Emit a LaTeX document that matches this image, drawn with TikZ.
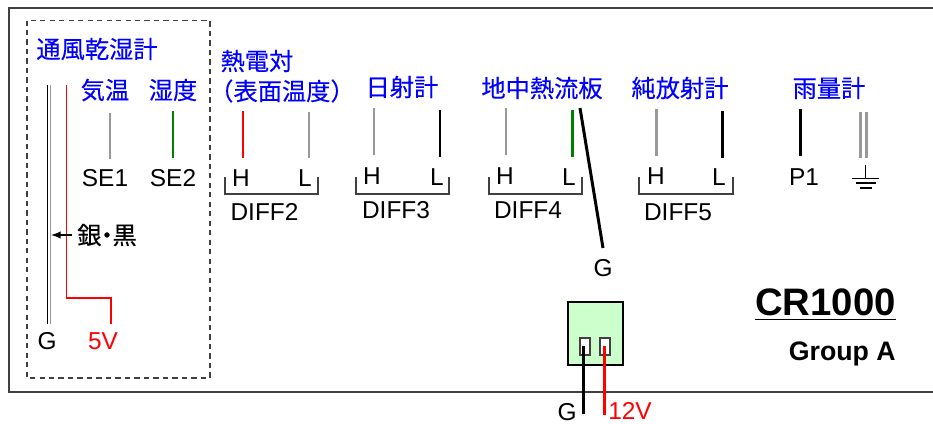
\documentclass[tikz,border=0pt]{standalone}
\usepackage{fontspec}
\setmainfont{Liberation Sans}
\newfontfamily\cjk[FakeBold=0.3]{Noto Sans CJK JP}
\usepackage{tikz}
\definecolor{wiregray}{HTML}{999999}
\definecolor{framegray}{HTML}{404040}
\definecolor{wiregreen}{HTML}{008000}
\definecolor{boxgreen}{HTML}{CCFFCC}
\definecolor{titleblue}{HTML}{0000FF}
\tikzset{
	every node/.style={inner sep=0pt},
	term/.style={font=\fontsize{13.9}{16}\selectfont},
	title/.style={font=\fontsize{13.8}{16}\selectfont\cjk, text=titleblue},
	frameline/.style={framegray, line width=.7pt},
	wire/.style={line width=1.7pt},
	thinwire/.style={line width=.7pt},
	bracket/.style={framegray, line width=.6pt},
}
\begin{document}
\begin{tikzpicture}[x=.02cm, y=-.02cm]
	\useasboundingbox (0,0) rectangle (933,423);
	\draw[frameline] (933,8)--(9,8)--(9,392)--(933,392);
	\draw[frameline, dashed, dash pattern=on 3pt off 2.4pt] (27,20.5) rectangle (210,378);
	%%%%%%%%%%%%%%%%%%%%%%%%%%%%%%%%
	\node[title] (psy) at (97,49){通風乾湿計};
	\node[title] (temp) at (105,90){気温};
	\node[title] (hum) at (173,90){湿度};
	\draw[wire, wiregray] (110,113)--(110,159);
	\draw[wire, wiregreen] (173,111)--(173,158);
	\node[term] (se1) at (105,178){SE1};
	\node[term] (se2) at (173,178){SE2};
	\draw[thinwire, black] (47.5,85)--(47.5,324);
	\draw[thinwire, wiregray] (50.5,85)--(50.5,324);
	\draw[thinwire, red] (66.8,85)--(66.8,298)--(111,298)--(111,324);
	\node[term] (gnda) at (47,341){G};
	\node[term, text=red] (fivev) at (103,341){5V};
	\node[term, font=\fontsize{13.8}{16}\selectfont\cjk] (silver) at (107,235){銀\hspace{-.27em}・\hspace{-.27em}黒};
	\draw[-latex, line width=.9pt] (silver.west)+(-5,0)--(51,235);
	%%%%%%%%%%%%%%%%%%%%%%%%%%%%%%%%
	\node[title] (tc) at (257,61){熱電対};
	\node[title] (tcs) at (282,91){（表面温度）};
	\draw[wire, red] (243,111)--(243,158);
	\draw[wire, wiregray] (309,112)--(309,158);
	\node[term] (h2) at (241,178){H};
	\node[term] (l2) at (305,178){L};
	\draw[bracket] (225,177)--(225,194)--(318,194)--(318,177);
	\node[term] (diff2) at (264.5,212){DIFF2};
	%%%%%%%%%%%%%%%%%%%%%%%%%%%%%%%%
	\node[title] (solar) at (402,87){日射計};
	\draw[wire, wiregray] (374,108)--(374,155);
	\draw[wire, black] (440,110)--(440,157);
	\node[term] (h3) at (372,176){H};
	\node[term] (l3) at (437,177){L};
	\draw[bracket] (356,177)--(356,194)--(449,194)--(449,177);
	\node[term] (diff3) at (396,210){DIFF3};
	%%%%%%%%%%%%%%%%%%%%%%%%%%%%%%%%
	\node[title] (flux) at (542,88){地中熱流板};
	\draw[wire, wiregray] (506,108)--(506,155);
	\draw[wire, wiregreen] (572,110)--(572,157);
	\node[term] (h4) at (505,176){H};
	\node[term] (l4) at (569,177){L};
	\draw[bracket] (489,177)--(489,194)--(582,194)--(582,177);
	\node[term] (diff4) at (528,210){DIFF4};
	\node[term] (gndb) at (603,268){G};
	\draw[wire, black] (580,108)--(603,248);
	%%%%%%%%%%%%%%%%%%%%%%%%%%%%%%%%
	\node[title] (net) at (680,88){純放射計};
	\draw[wire, wiregray] (656,109)--(656,156);
	\draw[wire, black] (722,111)--(722,158);
	\node[term] (h5) at (656,176){H};
	\node[term] (l5) at (719,177){L};
	\draw[bracket] (639,177)--(639,194)--(733,194)--(733,177);
	\node[term] (diff5) at (678,212){DIFF5};
	%%%%%%%%%%%%%%%%%%%%%%%%%%%%%%%%
	\node[title] (rain) at (829,88){雨量計};
	\draw[wire, black] (800,109)--(800,156);
	\node[term] (p1) at (804,177){P1};
	\draw[wire, wiregray] (860.3,112)--(860.3,158);
	\draw[wire, wiregray] (866,112)--(866,158);
	\draw[thinwire] (865.7,165)--(865.7,178.7);
	\draw[thinwire] (852,178.7)--(879,178.7);
	\draw[thinwire] (856,183)--(876,183);
	\draw[thinwire] (860,188)--(872,188);
	%%%%%%%%%%%%%%%%%%%%%%%%%%%%%%%%
	\node[font=\fontsize{21.8}{24}\selectfont\bfseries] (cr) at (825.5,302){CR1000};
	\draw[line width=.9pt] (755,319.5)--(896,319.5);
	\node[font=\fontsize{15.2}{18}\selectfont\bfseries, anchor=east] (group) at (896,354.3){Group A};
	%%%%%%%%%%%%%%%%%%%%%%%%%%%%%%%%
	\draw[fill=boxgreen, line width=.6pt] (568,302) rectangle (623,365);
	\draw[fill=white, line width=.6pt, draw=framegray] (580,338) rectangle (590,355);
	\draw[fill=white, line width=.6pt, draw=framegray] (600,338) rectangle (610,355);
	\draw[wire, black] (583.5,346)--(583.5,414);
	\draw[wire, red] (604,346)--(604,415);
	\node[term] (gndc) at (567,412){G};
	\node[term, text=red] (twelvev) at (630,411){12V};
\end{tikzpicture}
\end{document}
